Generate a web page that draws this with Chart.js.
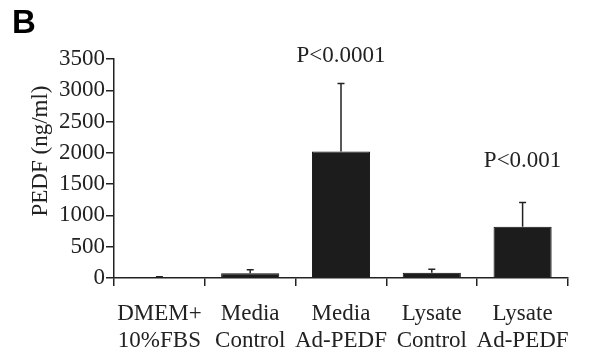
<!DOCTYPE html>
<html>
<head>
<meta charset="utf-8">
<script src="https://cdn.jsdelivr.net/npm/chart.js@4/dist/chart.umd.min.js"></script>
<style>
  html, body { margin: 0; padding: 0; background: #fff; }
  #wrap { width: 590px; height: 352px; position: relative; }
</style>
</head>
<body>
<div id="wrap"><canvas id="myChart"></canvas></div>
<script>
// values
const categories = [['DMEM+', '10%FBS'], ['Media', 'Control'], ['Media', 'Ad-PEDF'], ['Lysate', 'Control'], ['Lysate', 'Ad-PEDF']];
const pedf = [8, 75, 2020, 85, 820];
const pedfErr = [12, 55, 1090, 55, 385];
const pLabels = ['', '', 'P<0.0001', '', 'P<0.001'];
const yTicks = [0, 500, 1000, 1500, 2000, 2500, 3000, 3500];

const serif = '"Liberation Serif", "Times New Roman", serif';
const ink = '#222';

// error bars (upper half only) + p-value text
const errorBars = {
    id: 'errorBars',
    afterDatasetsDraw(chart, args, opts) {
        const ctx = chart.ctx;
        const y = chart.scales.y;
        const meta = chart.getDatasetMeta(0);
        ctx.save();
        ctx.strokeStyle = ink;
        ctx.lineWidth = 1.5;
        meta.data.forEach((bar, i) => {
            const top = y.getPixelForValue(pedf[i] + pedfErr[i]);
            ctx.beginPath();
            ctx.moveTo(bar.x, bar.y);
            ctx.lineTo(bar.x, top);
            ctx.moveTo(bar.x - 3.5, top);
            ctx.lineTo(bar.x + 3.5, top);
            ctx.stroke();
            if (pLabels[i]) {
                ctx.fillStyle = ink;
                ctx.font = '23px ' + serif;
                ctx.textAlign = 'center';
                ctx.textBaseline = 'bottom';
                ctx.fillText(pLabels[i], bar.x, top - opts.gap[i]);
            }
        });
        ctx.restore();
    }
};

// panel letter and rotated y title
const extraText = {
    id: 'extraText',
    afterDraw(chart) {
        const ctx = chart.ctx;
        ctx.save();
        ctx.fillStyle = '#000';
        ctx.font = 'bold 33px "Liberation Sans", Arial, sans-serif';
        ctx.textAlign = 'left';
        ctx.textBaseline = 'middle';
        ctx.fillText('B', 12, 24);

        ctx.fillStyle = ink;
        ctx.font = '23px ' + serif;
        ctx.translate(41, 151);
        ctx.rotate(-Math.PI / 2);
        ctx.textAlign = 'center';
        ctx.textBaseline = 'middle';
        ctx.fillText('PEDF (ng/ml)', 0, 0);
        ctx.restore();
    }
};

const ctx = document.getElementById('myChart');

new Chart(ctx, {
    type: 'bar',
    data: {
        labels: categories,
        datasets: [{
            data: pedf,
            backgroundColor: '#1c1c1c',
            borderColor: '#111',
            borderWidth: 1,
            barPercentage: 0.64,
            categoryPercentage: 1
        }]
    },
    options: {
        responsive: true,
        maintainAspectRatio: false,
        animation: false,
        layout: { padding: { left: 0, top: 59, right: 22, bottom: 0 } },
        plugins: {
            legend: { display: false },
            tooltip: { enabled: false },
            errorBars: { gap: [0, 0, 16, 0, 30] }
        },
        scales: {
            x: {
                afterFit: (s) => { s.height = 74; },
                grid: { drawOnChartArea: false, drawTicks: true, tickLength: 8, color: ink, lineWidth: 1.5 },
                border: { display: true, color: ink, width: 1.5 },
                ticks: {
                    color: ink,
                    padding: 14,
                    maxRotation: 0,
                    autoSkip: false,
                    font: { family: serif, size: 23, lineHeight: 1.2 }
                }
            },
            y: {
                min: 0,
                max: 3500,
                afterFit: (s) => { s.width = 114; },
                afterBuildTicks: (s) => { s.ticks = yTicks.map(v => ({ value: v })); },
                grid: { drawOnChartArea: false, drawTicks: true, tickLength: 8, color: ink, lineWidth: 1.5 },
                border: { display: true, color: ink, width: 1.5 },
                ticks: {
                    color: ink,
                    padding: 1,
                    callback: (v) => String(v),
                    font: { family: serif, size: 23 }
                }
            }
        }
    },
    plugins: [errorBars, extraText]
});
</script>
</body>
</html>
